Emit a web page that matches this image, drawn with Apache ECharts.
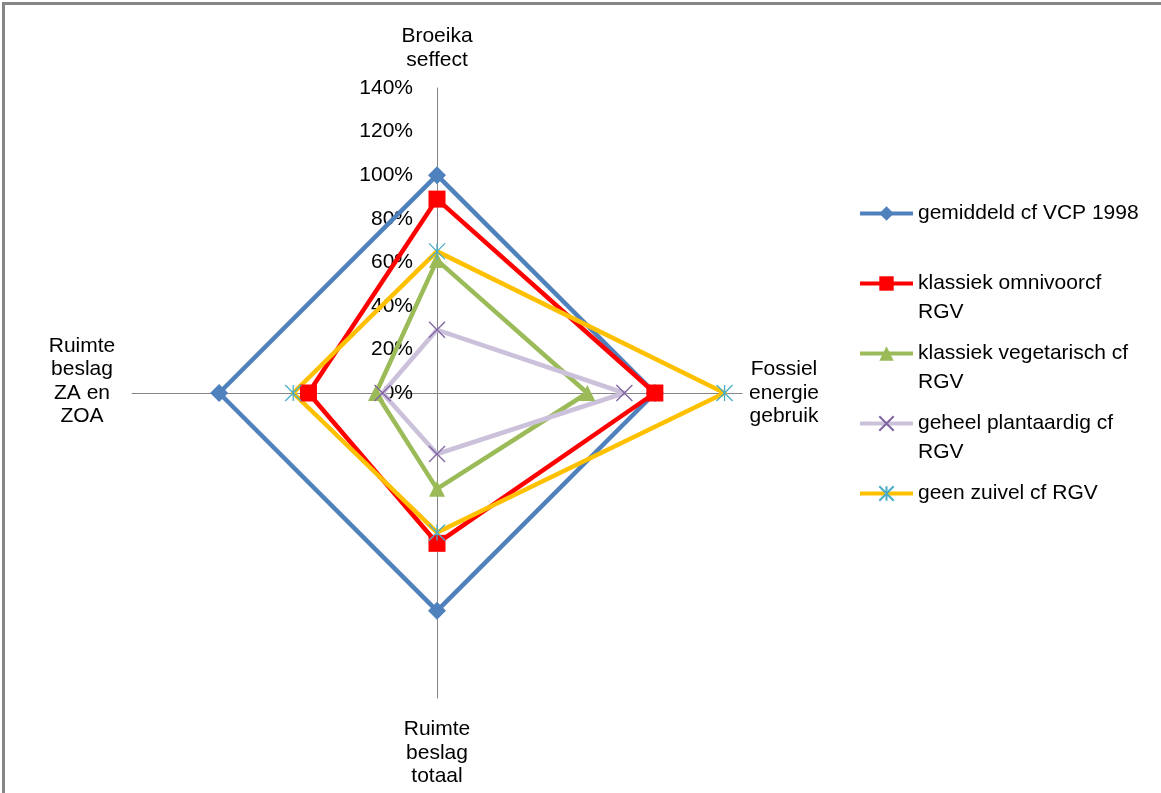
<!DOCTYPE html>
<html><head><meta charset="utf-8">
<script src="https://cdn.jsdelivr.net/npm/echarts@6/dist/echarts.min.js"></script>
<style>
html,body{margin:0;padding:0;background:#fff;overflow:hidden;width:1161px;height:793px}
#frame{position:absolute;left:2px;top:2px;width:1250px;height:900px;border:3px solid #868686;box-sizing:border-box;z-index:5;pointer-events:none}
#chart{position:absolute;left:0;top:0;width:1161px;height:793px;z-index:1}
</style>
</head><body><div id="chart"></div><div id="frame"></div>
<script>
// Axes in ECharts radar order (counter-clockwise from top): top, left, bottom, right
const axisNames = ['Broeika\nseffect', 'Ruimte\nbeslag\nZA en\nZOA', 'Ruimte\nbeslag\ntotaal', 'Fossiel\nenergie\ngebruik'];
const axisMax = 140;
const axisStep = 20;

const seriesNames = ['gemiddeld cf VCP 1998', 'klassiek omnivoorcf RGV', 'klassiek vegetarisch cf RGV', 'geheel plantaardig cf RGV', 'geen zuivel cf RGV'];
const legendLabels = ['gemiddeld cf VCP 1998', 'klassiek omnivoorcf\nRGV', 'klassiek vegetarisch cf\nRGV', 'geheel plantaardig cf\nRGV', 'geen zuivel cf RGV'];

const gemiddeld   = [100, 100, 100, 100];
const omnivoor    = [89, 59, 69, 100];
const vegetarisch = [61, 28, 44, 69];
const plantaardig = [29, 25, 28, 86];
const geenZuivel  = [65, 66, 64, 132];
const values = [gemiddeld, omnivoor, vegetarisch, plantaardig, geenZuivel];

// styles
const lineColors = ['#4F81BD', '#FF0000', '#9BBB59', '#CCC1DA', '#FFC000'];
const markColors = ['#4F81BD', '#FF0000', '#9BBB59', '#8064A2', '#4BACC6'];
const symbols = ['diamond', 'rect', 'triangle', 'path://M0,0L10,10M10,0L0,10', 'path://M5,0L5,10M0,0L10,10M10,0L0,10'];
const symbolSizes = [18, 17, 16, 16, 16];
const nameGaps = [40, 50, 55, 42];
const FONT = 'Liberation Sans, Arial, sans-serif';

const chart = echarts.init(document.getElementById('chart'));

const indicators = axisNames.map((n, i) => ({
  name: n, min: 0, max: axisMax,
  nameGap: nameGaps[i],
  axisLabel: {show: i === 0}
}));

const dummyLines = seriesNames.map((n, i) => ({
  type: 'line', name: n, data: [],
  symbol: symbols[i], symbolSize: symbolSizes[i],
  lineStyle: {color: lineColors[i], width: 4},
  itemStyle: {color: markColors[i], borderColor: markColors[i], borderWidth: (i >= 3 ? 1.3 : 0)}
}));

chart.setOption({
  animation: false,
  backgroundColor: '#fff',
  grid: {show: false, left: 0, top: 0, width: 1, height: 1},
  xAxis: {type: 'value', show: false},
  yAxis: {type: 'value', show: false},
  legend: {
    orient: 'vertical', left: 858, top: 170, padding: 0,
    itemWidth: 53, itemHeight: 18, itemGap: -17,
    data: seriesNames,
    formatter: function (name) {
      const lbl = legendLabels[seriesNames.indexOf(name)];
      return ' \n' + lbl + (lbl.indexOf('\n') < 0 ? '\n ' : '');
    },
    lineStyle: {width: 4},
    textStyle: {fontFamily: FONT, fontSize: 21, color: '#000', lineHeight: 29}
  },
  radar: {
    center: [437, 393], radius: 305,
    startAngle: 90,
    splitNumber: axisMax / axisStep,
    shape: 'polygon',
    indicator: indicators,
    axisName: {
      color: '#000', fontFamily: FONT, fontSize: 21, lineHeight: 23.5, align: 'center', verticalAlign: 'middle',
      formatter: function (name) { return name === axisNames[1] ? name + '\n ' : name; }
    },
    axisLine: {lineStyle: {color: '#868686', width: 1}},
    axisTick: {show: false},
    splitLine: {show: false},
    splitArea: {show: false},
    axisLabel: {show: false, fontFamily: FONT, fontSize: 21, color: '#000', formatter: '{value}%', margin: 24}
  },
  series: dummyLines.concat([{
    type: 'radar',
    z: 3,
    data: values.map((v, i) => ({
      name: seriesNames[i],
      value: v,
      symbol: symbols[i], symbolSize: symbolSizes[i],
      lineStyle: {color: lineColors[i], width: 4.5},
      itemStyle: {color: markColors[i], borderColor: markColors[i], borderWidth: (i >= 3 ? 1.3 : 0)},
      areaStyle: null
    }))
  }])
});
</script>
</body></html>
